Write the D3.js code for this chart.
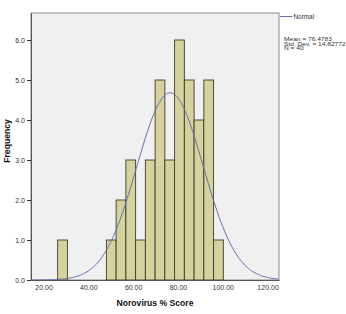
<!DOCTYPE html>
<html><head><meta charset="utf-8">
<script src="https://cdn.jsdelivr.net/npm/d3@7"></script>
<style>body{margin:0;background:#fff;}svg{display:block;font-family:"Liberation Sans",Arial,sans-serif;}</style>
</head><body>
<script>
// Histogram data (bins of equal width)
const binStart = 26.3;
const binWidth = 4.35;
const counts = [1,0,0,0,0,1,2,3,1,3,5,3,6,5,4,5,1];
const xTicks = [20,40,60,80,100,120];
const yTicks = [0,1,2,3,4,5,6];
const mean = 76.4783, sd = 14.82772, N = 40;
const statLines = ["Mean = 76.4783","Std. Dev. = 14.82772","N = 40"];

const W=346,H=314;
const m={l:31,t:13,r:279,b:280};
const svg=d3.select("body").append("svg").attr("width",W).attr("height",H);
const x=d3.scaleLinear().domain([14.4,125.1]).range([m.l,m.r]);
const y=d3.scaleLinear().domain([0,6.675]).range([m.b,m.t]);

svg.append("rect").attr("x",m.l).attr("y",m.t).attr("width",m.r-m.l).attr("height",m.b-m.t)
  .attr("fill","#f0f0f0").attr("stroke","#8a8a8a").attr("stroke-width",1);

const bins=counts.map((c,i)=>({x0:binStart+i*binWidth,x1:binStart+(i+1)*binWidth,c}));
svg.append("g").selectAll("rect").data(bins.filter(d=>d.c>0)).join("rect")
  .attr("x",d=>x(d.x0)).attr("width",d=>x(d.x1)-x(d.x0))
  .attr("y",d=>y(d.c)).attr("height",d=>y(0)-y(d.c))
  .attr("fill","#d5d29e").attr("stroke","#3c3c2c").attr("stroke-width",0.9);

// normal curve
const pts=d3.range(14.4,125.15,0.5).map(v=>[v,N*binWidth*Math.exp(-0.5*((v-mean)/sd)**2)/(sd*Math.sqrt(2*Math.PI))]);
svg.append("path").datum(pts).attr("d",d3.line().x(d=>x(d[0])).y(d=>y(d[1])).curve(d3.curveBasis))
  .attr("fill","none").attr("stroke","#6a6eaa").attr("stroke-width",1);

// axes
const ya=svg.append("g").attr("transform",`translate(${m.l},0)`)
  .call(d3.axisLeft(y).tickValues(yTicks).tickFormat(d3.format(".1f")).tickSize(4).tickSizeOuter(0));
const xa=svg.append("g").attr("transform",`translate(0,${m.b})`)
  .call(d3.axisBottom(x).tickValues(xTicks).tickFormat(d3.format(".2f")).tickSize(0).tickSizeOuter(0).tickPadding(5));
[ya,xa].forEach(a=>{a.select(".domain").attr("stroke","#555");a.selectAll("line").attr("stroke","#333");
  a.selectAll("text").attr("font-size",7).attr("fill","#333").attr("font-family","Liberation Sans, Arial, sans-serif");});
ya.selectAll("text").attr("dx",1);

svg.append("text").attr("x",155).attr("y",306).attr("text-anchor","middle")
  .attr("font-size",8.6).attr("font-weight","bold").attr("fill","#111").text("Norovirus % Score");
svg.append("text").attr("transform","translate(10,141) rotate(-90)").attr("text-anchor","middle")
  .attr("font-size",8.6).attr("font-weight","bold").attr("fill","#111").text("Frequency");

// legend
svg.append("line").attr("x1",280).attr("x2",292.5).attr("y1",16.5).attr("y2",16.5).attr("stroke","#6a6eaa").attr("stroke-width",1);
svg.append("text").attr("x",293.5).attr("y",18.8).attr("font-size",6.4).attr("fill","#333").text("Normal");
svg.append("g").attr("transform","translate(284,41) scale(1,0.78)").selectAll("text").data(statLines).join("text")
  .attr("x",0).attr("y",(d,i)=>i*5.9).attr("font-size",6.6).attr("fill","#333").text(d=>d);
</script>
</body></html>
